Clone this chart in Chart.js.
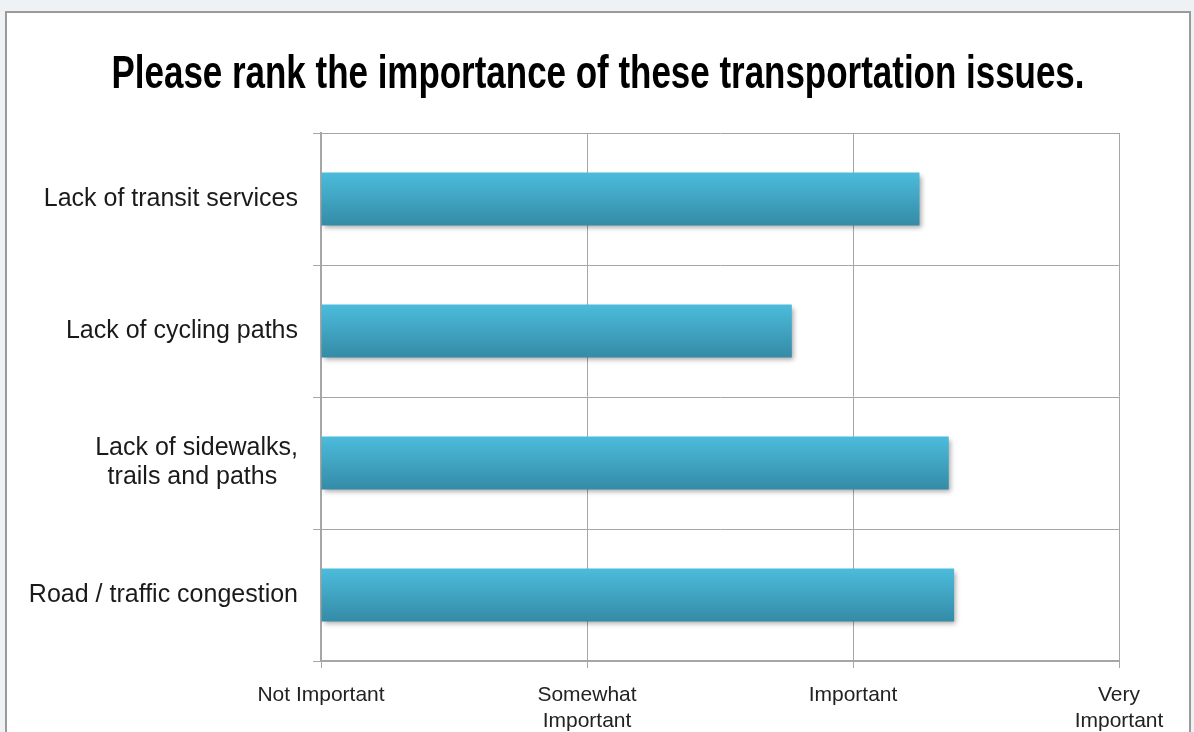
<!DOCTYPE html>
<html>
<head>
<meta charset="utf-8">
<script src="https://cdn.jsdelivr.net/npm/chart.js@4/dist/chart.umd.min.js"></script>
<style>
  html, body { margin: 0; padding: 0; background: #eef2f5; }
  #frame {
    position: absolute; left: 5px; top: 11px; width: 1186px; height: 740px;
    background: #fff; border: 2px solid #9a9a9a; box-sizing: border-box;
  }
  #wrap { position: absolute; left: 0; top: 0; width: 1194px; height: 732px; }
</style>
</head>
<body>
<div id="frame"></div>
<div id="wrap"><canvas id="chart" width="1194" height="732"></canvas></div>
<script>
// survey answers, 1 = Not Important ... 4 = Very Important
const issues = [
    "Lack of transit services",
    "Lack of cycling paths",
    ["Lack of sidewalks,", "trails and paths   "],
    "Road / traffic congestion"
];
const importance = [3.25, 2.77, 3.36, 3.38];
const scaleLabels = ["Not Important", ["Somewhat", "Important"], "Important", ["Very", "Important"]];
const chartTitle = "Please rank the importance of these transportation issues.";

const barPct = 0.4;

// soft drop shadow under the bars
const barShadow = {
    id: 'barShadow',
    beforeDatasetDraw(chart) {
        const c = chart.ctx;
        c.save();
        c.shadowColor = 'rgba(0,0,0,0.35)';
        c.shadowBlur = 5;
        c.shadowOffsetX = 2;
        c.shadowOffsetY = 3;
    },
    afterDatasetDraw(chart) {
        chart.ctx.restore();
    }
};

// condensed bold title (no narrow font installed, so squeeze it with maxWidth)
const narrowTitle = {
    id: 'narrowTitle',
    afterDraw(chart) {
        const c = chart.ctx;
        c.save();
        c.font = "bold 46px 'Liberation Sans', Arial, sans-serif";
        c.fillStyle = '#000';
        c.textAlign = 'center';
        c.textBaseline = 'alphabetic';
        c.fillText(chartTitle, 598, 88, 973);
        c.restore();
    }
};

function barFill(ctx) {
    const chart = ctx.chart;
    const yScale = chart.scales.y;
    if (!yScale || !chart.chartArea) return '#3fa6c6';
    const y = yScale.getPixelForValue(ctx.dataIndex);
    const half = (yScale.height / issues.length) * barPct / 2;
    const g = chart.ctx.createLinearGradient(0, y - half, 0, y + half);
    g.addColorStop(0, '#4cbcdc');
    g.addColorStop(1, '#348ba6');
    return g;
}

new Chart(document.getElementById('chart'), {
    type: 'bar',
    data: {
        labels: issues,
        datasets: [{
            data: importance,
            backgroundColor: barFill,
            borderWidth: 0,
            barPercentage: barPct,
            categoryPercentage: 1,
            base: 1,
        }]
    },
    options: {
        indexAxis: 'y',
        responsive: false,
        animation: false,
        layout: { padding: { left: 0, right: 75, top: 133, bottom: 0 } },
        plugins: {
            legend: { display: false },
            tooltip: { enabled: false },
            title: { display: false },
        },
        scales: {
            x: {
                min: 1,
                max: 4,
                afterFit(scale) { scale.height = 71; },
                afterBuildTicks(scale) {
                    scale.ticks = [1, 2, 3, 4].map(v => ({ value: v }));
                },
                ticks: {
                    color: '#222',
                    font: { family: "'Liberation Sans', Arial, sans-serif", size: 21, lineHeight: 1.25 },
                    padding: 14,
                    maxRotation: 0,
                    autoSkip: false,
                    callback: (v) => scaleLabels[v - 1],
                },
                grid: { color: '#a6a6a6', lineWidth: 1, tickLength: 7 },
                border: { color: '#a6a6a6', width: 2 },
            },
            y: {
                afterFit(scale) { scale.width = 321; },
                ticks: {
                    color: '#1a1a1a',
                    font: { family: "'Liberation Sans', Arial, sans-serif", size: 25, lineHeight: 1.16 },
                    padding: 15,
                },
                grid: { color: '#a6a6a6', lineWidth: 1, tickLength: 8, offset: true },
                border: { color: '#a6a6a6', width: 2 },
            }
        }
    },
    plugins: [barShadow, narrowTitle]
});
</script>
</body>
</html>
